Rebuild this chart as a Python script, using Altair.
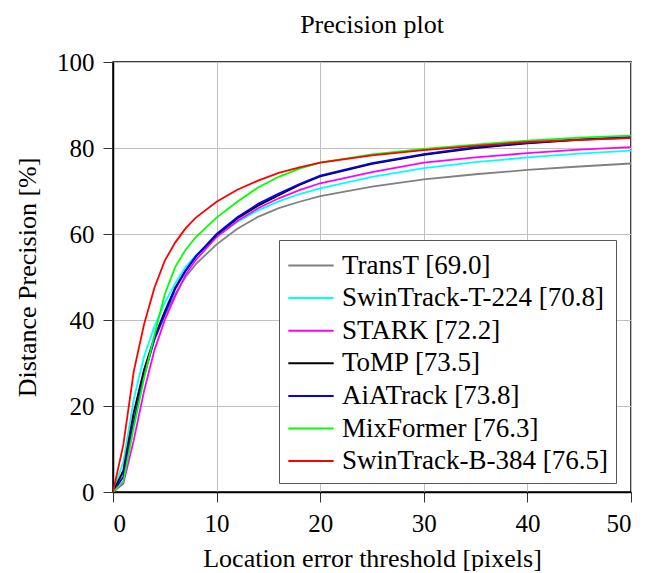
import altair as alt
import pandas as pd

thresholds = [0, 1, 2, 3, 4, 5, 6, 7, 8, 10, 12, 14, 16, 18, 20, 25, 30, 35, 40, 45, 50]

trackers = [
    "TransT [69.0]",
    "SwinTrack-T-224 [70.8]",
    "STARK [72.2]",
    "ToMP [73.5]",
    "AiATrack [73.8]",
    "MixFormer [76.3]",
    "SwinTrack-B-384 [76.5]",
]
colors = ["#808080", "#00ffff", "#ff00ff", "#000000", "#0000ff", "#00ff00", "#ff0000"]

transt = [0, 4.5, 17, 28, 35.5, 41, 46, 50, 53, 57.6, 61.2, 64, 66, 67.5, 68.8, 71, 72.7, 73.9, 74.9, 75.7, 76.4]
swin_t = [0, 7, 21.5, 31.5, 38.5, 44, 48.5, 52.3, 55, 59.5, 62.8, 65.5, 67.6, 69.3, 70.6, 73.3, 75.3, 76.7, 77.8, 78.7, 79.4]
stark = [0, 2, 12, 23.5, 33, 40, 45.5, 50.5, 54, 59.3, 63, 66, 68.3, 70.2, 71.8, 74.4, 76.6, 77.8, 78.8, 79.6, 80.2]
tomp = [0, 5, 18.5, 28.5, 36, 42, 47.5, 51.5, 54.8, 59.8, 63.6, 66.6, 69, 71.4, 73.4, 76.3, 78.4, 80, 81.1, 81.9, 82.4]
aiatrack = [0, 3.5, 16, 27, 35.5, 41.5, 47.2, 51.4, 54.8, 60, 63.9, 67, 69.4, 71.6, 73.6, 76.5, 78.6, 80.2, 81.2, 82, 82.6]
mixformer = [0, 2.4, 15, 26.5, 36.5, 46, 52.3, 56.3, 59.3, 63.8, 67.5, 70.8, 73.3, 75.2, 76.6, 78.5, 79.8, 80.8, 81.7, 82.4, 82.9]
swin_b = [0, 11, 28, 39, 47.5, 53.8, 58, 61.3, 63.8, 67.5, 70.3, 72.4, 74.2, 75.5, 76.6, 78.3, 79.5, 80.5, 81.4, 81.9, 82.3]

series = [transt, swin_t, stark, tomp, aiatrack, mixformer, swin_b]

rows = []
for order, (name, vals) in enumerate(zip(trackers, series)):
    for x, y in zip(thresholds, vals):
        rows.append({"tracker": name, "order": order, "x": x, "y": y})
df = pd.DataFrame(rows)

FONT = "Liberation Serif"

chart = (
    alt.Chart(df)
    .mark_line(strokeWidth=1.8, clip=True)
    .encode(
        x=alt.X(
            "x:Q",
            scale=alt.Scale(domain=[0, 50], nice=False),
            axis=alt.Axis(values=[0, 10, 20, 30, 40, 50], title="Location error threshold [pixels]"),
        ),
        y=alt.Y(
            "y:Q",
            scale=alt.Scale(domain=[0, 100], nice=False),
            axis=alt.Axis(values=[0, 20, 40, 60, 80, 100], title="Distance Precision [%]"),
        ),
        color=alt.Color(
            "tracker:N",
            scale=alt.Scale(domain=trackers, range=colors),
            legend=alt.Legend(
                title=None,
                orient="none",
                legendX=166,
                legendY=178,
                symbolType="M-1,0L1.8,0",
                symbolStrokeWidth=2,
                symbolFillColor="transparent",
                symbolSize=1050,
                labelFont=FONT,
                labelFontSize=27,
                labelColor="#000000",
                labelLimit=400,
                labelOffset=20,
                rowPadding=1.6,
                padding=8,
                strokeColor="#555555",
                fillColor="#ffffff",
            ),
        ),
        order=alt.Order("order:Q"),
        detail="tracker:N",
    )
    .properties(
        width=518,
        height=430,
        title=alt.TitleParams("Precision plot", font=FONT, fontSize=26, fontWeight="normal", color="#000000", offset=12, frame="group"),
        padding={"left": 6, "top": 4, "right": 0, "bottom": 0},
    )
    .configure_view(stroke="#000000", strokeWidth=1.5)
    .configure_axis(
        labelFont=FONT,
        labelFontSize=25,
        labelColor="#000000",
        titleFont=FONT,
        titleFontSize=26,
        titleFontWeight="normal",
        titleColor="#000000",
        gridColor="#c0c0c0",
        gridWidth=1,
        domainColor="#000000",
        domainWidth=1.5,
        tickColor="#333333",
        tickSize=10,
        labelPadding=9,
    )
    .configure_axisY(titlePadding=16)
    .configure_axisX(titlePadding=9)
)

chart.save("out.html", embed_options={"renderer": "svg", "actions": False})
